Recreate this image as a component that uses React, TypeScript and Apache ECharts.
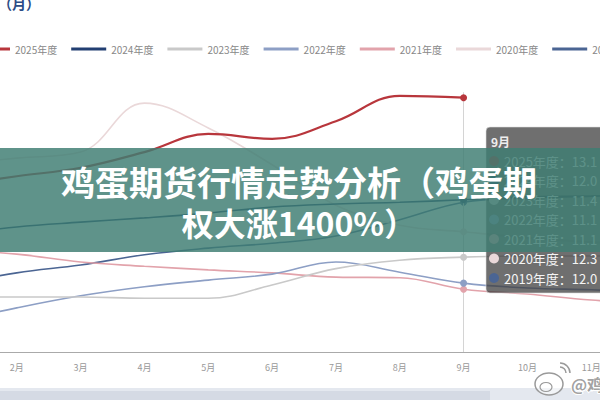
import React, { useEffect, useRef } from 'react';
import * as echarts from 'echarts';

// 月份（類目軸）
const months = ['1月', '2月', '3月', '4月', '5月', '6月', '7月', '8月', '9月', '10月', '11月', '12月'];

// 各年度名稱與顏色
const seriesNames = ['2025年度', '2024年度', '2023年度', '2022年度', '2021年度', '2020年度', '2019年度'];
const seriesColors = ['#b8363c', '#223f72', '#c9c9c9', '#8d9fc5', '#e2a3ab', '#ead8d9', '#4b6593'];

// 各年度數據
const v2025 = [11.76, 11.91, 12.05, 12.31, 12.61, 12.53, 12.82, 13.24, 13.21];
const v2024 = [10.94, 11.07, 11.15, 11.22, 11.3, 11.4, 11.45, 11.48, 11.52, 11.57, 11.58, 11.6];
const v2023 = [9.91, 9.91, 9.91, 9.89, 9.89, 10.11, 10.38, 10.52, 10.57, 10.59, 10.59, 10.61];
const v2022 = [9.5, 9.73, 9.93, 10.08, 10.19, 10.29, 10.49, 10.32, 10.14, 10.06, 10.03, 9.99];
const v2021 = [10.69, 10.62, 10.49, 10.42, 10.36, 10.31, 10.24, 10.23, 10.04, 9.96, 9.86, 9.81];
const v2020 = [12.1, 12.21, 12.31, 13.12, 12.71, 12.1, 11.43, 11.1, 10.99, 10.89, 10.82, 10.77];
const v2019 = [10.11, 10.31, 10.44, 10.61, 10.72, 10.8, 10.92, 11.19, 11.48, 11.55, 11.58, 11.62];
const allValues = [v2025, v2024, v2023, v2022, v2021, v2020, v2019];

// 提示框內容
const focusIndex = 8;
const tipValues = ['13.1', '12.0', '11.4', '11.1', '11.1', '12.3', '12.0'];

// 橫幅標題
const bannerLines = ['鸡蛋期货行情走势分析（鸡蛋期', '权大涨1400%）'];
const bannerSizes = [34, 32];

const FONT = '"Noto Sans CJK SC", "Noto Sans", sans-serif';
const OFFSET = 100; // 圖表容器相對畫面的左移量

const App: React.FC = () => {
  const chartRef = useRef<HTMLDivElement>(null);

  useEffect(() => {
    if (!chartRef.current) return;
    const chart = echarts.init(chartRef.current, undefined, { renderer: 'svg' });
    const px = (x: number) => x + OFFSET;

    const tipRows: any[] = [];
    seriesNames.forEach((name, i) => {
      const cy = 161 + 19.5 * i;
      tipRows.push({
        type: 'circle',
        z: 50,
        shape: { cx: px(494), cy, r: 5 },
        style: { fill: seriesColors[i] },
      });
      tipRows.push({
        type: 'text',
        z: 50,
        x: px(504),
        y: cy,
        style: {
          text: `${name}：${tipValues[i]}`,
          font: `13px ${FONT}`,
          fill: '#f4f4f4',
          textVerticalAlign: 'middle',
        },
      });
    });

    const option: echarts.EChartsOption = {
      animation: false,
      grid: { left: 21, right: 13, top: 50, bottom: 48 },
      legend: {
        left: 70,
        top: 39,
        icon: 'rect',
        itemWidth: 35,
        itemHeight: 3,
        itemGap: 14,
        data: seriesNames,
        textStyle: { color: '#888', fontSize: 10, fontFamily: FONT },
      },
      xAxis: {
        type: 'category',
        data: months,
        axisLine: { lineStyle: { color: '#aaa' } },
        axisTick: { length: 4, lineStyle: { color: '#aaa' } },
        axisLabel: { color: '#999', fontSize: 9, margin: 11, interval: 0, fontFamily: FONT },
      },
      yAxis: { type: 'value', min: 9, max: 14, show: false },
      series: seriesNames.map((name, i) => ({
        name,
        type: 'line',
        smooth: 0.4,
        symbol: 'circle',
        symbolSize: (_v: any, p: any) => (p.dataIndex === focusIndex ? 7 : 0),
        lineStyle: { color: seriesColors[i], width: i === 0 ? 2.2 : 1.6 },
        itemStyle: { color: seriesColors[i] },
        data: allValues[i],
        z: 10 - i,
        markLine:
          i === 0
            ? {
                silent: true,
                symbol: ['none', 'none'],
                label: { show: false },
                lineStyle: { color: '#d4d4d4', width: 1, type: 'solid' },
                data: [[{ coord: [months[focusIndex], 13.3] }, { coord: [months[focusIndex], 9] }]],
              }
            : undefined,
      })) as any,
      graphic: [
        // 左上角標題殘字
        {
          type: 'text',
          x: px(40),
          y: 3,
          style: {
            text: '度（月）',
            font: `bold 14px ${FONT}`,
            fill: '#2c4c86',
            textAlign: 'right',
            textVerticalAlign: 'middle',
          },
        },
        // 底部縮放條
        { type: 'rect', shape: { x: px(0), y: 388, width: 600, height: 12 }, style: { fill: '#e4e8ef' } },
        { type: 'rect', shape: { x: px(0), y: 391, width: 490, height: 9 }, style: { fill: '#d5dae4' } },
        // 提示框
        {
          type: 'rect',
          z: 50,
          shape: { x: px(486), y: 127, width: 130, height: 166, r: 4 },
          style: { fill: 'rgba(55,55,55,0.72)', stroke: 'rgba(220,220,220,0.6)', lineWidth: 1 },
        },
        {
          type: 'text',
          z: 50,
          x: px(491),
          y: 141,
          style: {
            text: months[focusIndex],
            font: `bold 12px ${FONT}`,
            fill: '#eee',
            textVerticalAlign: 'middle',
          },
        },
        ...tipRows,
        // 橫幅
        {
          type: 'rect',
          z: 100,
          shape: { x: px(0), y: 148, width: 600, height: 104 },
          style: { fill: 'rgba(62,125,114,0.83)' },
        },
        ...bannerLines.map((t, i) => ({
          type: 'text',
          z: 101,
          x: px(299),
          y: 181 + i * 41,
          style: {
            text: t,
            font: `bold ${bannerSizes[i]}px ${FONT}`,
            fill: '#ffffff',
            textAlign: 'center',
            textVerticalAlign: 'middle',
          },
        })),
        // 水印
        {
          type: 'ellipse',
          z: 110,
          shape: { cx: px(549), cy: 384, rx: 14, ry: 11 },
          style: { fill: 'rgba(255,255,255,0.5)', stroke: '#9a9a9a', lineWidth: 1.5 },
        },
        {
          type: 'ellipse',
          z: 110,
          shape: { cx: px(546), cy: 387, rx: 6, ry: 4.5 },
          style: { fill: 'none', stroke: '#9a9a9a', lineWidth: 1.2 },
        },
        {
          type: 'arc',
          z: 110,
          shape: { cx: px(560), cy: 373, r: 6, startAngle: -Math.PI / 2, endAngle: 0 },
          style: { stroke: '#9a9a9a', lineWidth: 1.5, fill: 'none' },
        },
        {
          type: 'arc',
          z: 110,
          shape: { cx: px(560), cy: 373, r: 10, startAngle: -Math.PI / 2, endAngle: 0 },
          style: { stroke: '#9a9a9a', lineWidth: 1.5, fill: 'none' },
        },
        {
          type: 'text',
          z: 110,
          x: px(571),
          y: 384,
          style: {
            text: '@鸡蛋期货',
            font: `bold 16px ${FONT}`,
            fill: 'rgba(150,150,150,0.9)',
            stroke: '#fff',
            lineWidth: 2,
            textVerticalAlign: 'middle',
          },
        },
      ] as any,
    };

    chart.setOption(option);

    return () => {
      chart.dispose();
    };
  }, []);

  return (
    <div
      style={{
        position: 'fixed',
        left: 0,
        top: 0,
        width: 600,
        height: 400,
        overflow: 'hidden',
        background: '#fff',
      }}
    >
      <div
        ref={chartRef}
        style={{ position: 'absolute', left: -OFFSET, top: 0, width: 800, height: 400 }}
      />
    </div>
  );
};

export default App;
